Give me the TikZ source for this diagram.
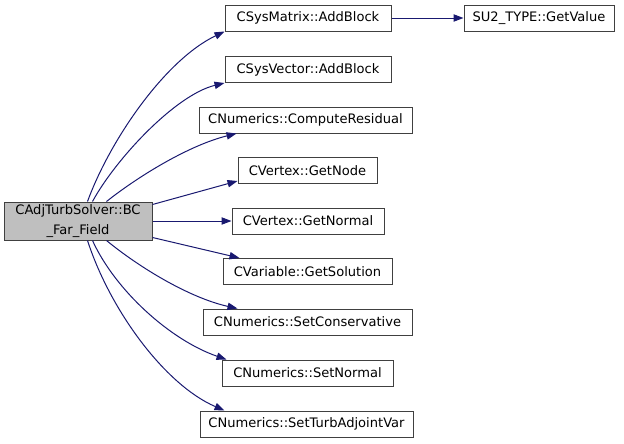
\documentclass[tikz,border=0pt]{standalone}
\usepackage{fontspec}
\setmainfont{DejaVu Sans}
\usetikzlibrary{arrows.meta,calc}
\definecolor{edgecol}{HTML}{191970}
\definecolor{bordercol}{HTML}{404040}
\definecolor{mainfill}{HTML}{BFBFBF}
\begin{document}
\begin{tikzpicture}[x=0.75pt,y=-0.75pt,
  fn/.style={draw=bordercol, line width=0.75pt, fill=white, inner sep=0pt,
    minimum height=19.5pt, font=\fontsize{9.8}{12}\selectfont},
  edge/.style={draw=edgecol, line width=0.75pt, -{Triangle[length=7.5pt,width=5.5pt]}}]
\useasboundingbox (0,0) rectangle (624,443);
\node[fn, minimum width=111pt, minimum height=28.5pt, fill=mainfill, align=center,
  font=\fontsize{9.8}{14.5}\selectfont] (main) at (78,221) {CAdjTurbSolver::BC\\\_Far\_Field};
\node[fn, minimum width=124.5pt] (mat) at (308,18) {CSysMatrix::AddBlock};
\node[fn, minimum width=112.5pt] (su2) at (539,18) {SU2\_TYPE::GetValue};
\node[fn, minimum width=124.5pt] (vec) at (308,69.5) {CSysVector::AddBlock};
\node[fn, minimum width=159.75pt] (res) at (305.5,120) {CNumerics::ComputeResidual};
\node[fn, minimum width=104.25pt] (gnode) at (307.5,170.5) {CVertex::GetNode};
\node[fn, minimum width=114pt] (gnorm) at (308,221) {CVertex::GetNormal};
\node[fn, minimum width=126.75pt] (gsol) at (307.5,271.5) {CVariable::GetSolution};
\node[fn, minimum width=156.75pt] (scons) at (307.5,322) {CNumerics::SetConservative};
\node[fn, minimum width=128.25pt] (snorm) at (307.5,373) {CNumerics::SetNormal};
\node[fn, minimum width=159.75pt] (sturb) at (306.5,424) {CNumerics::SetTurbAdjointVar};

\draw[edge] ($(main.north west)+(84,0)$) .. controls (110,140) and (165,60) .. (mat.south west);
\draw[edge] ($(main.north west)+(89,0)$) .. controls (115,160) and (175,95) .. (vec.south west);
\draw[edge] ($(main.north west)+(103,0)$) .. controls (140,175) and (190,145) .. ($(res.south west)+(38,0)$);
\draw[edge] ($(main.north east)+(0,3)$) -- ($(gnode.south west)+(0,-3)$);
\draw[edge] (main.east) -- (gnorm.west);
\draw[edge] ($(main.south east)+(0,-3)$) -- ($(gsol.north west)+(17,0)$);
\draw[edge] ($(main.south west)+(103,0)$) .. controls (140,268) and (190,298) .. ($(scons.north west)+(35,0)$);
\draw[edge] ($(main.south west)+(89,0)$) .. controls (115,290) and (170,340) .. ($(snorm.north west)+(5,0)$);
\draw[edge] ($(main.south west)+(84,0)$) .. controls (110,310) and (165,385) .. ($(sturb.north west)+(25,0)$);
\draw[edge] (mat.east) -- (su2.west);
\end{tikzpicture}
\end{document}
